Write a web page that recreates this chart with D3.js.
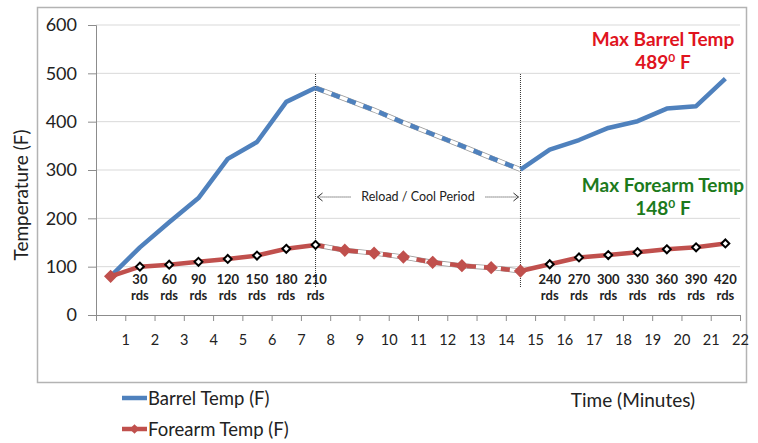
<!DOCTYPE html>
<html>
<head>
<meta charset="utf-8">
<script src="https://cdn.jsdelivr.net/npm/d3@7"></script>
<style>
  body { margin: 0; background: #fff; }
  svg text { font-family: Lato, "Open Sans", sans-serif; }
</style>
</head>
<body>
<div id="chart"></div>
<script>
// Barrel / forearm temperature during firing and reload-cool period

const timeMin = [0.5, 1.5, 2.5, 3.5, 4.5, 5.5, 6.5, 7.5, 8.5, 9.5, 10.5,
                 11.5, 12.5, 13.5, 14.5, 15.5, 16.5, 17.5, 18.5, 19.5, 20.5, 21.5];
const barrelTemp = [80, 140, 192, 242, 323, 358, 441, 470, 447, 424, 398,
                    374, 350, 325, 301, 342, 362, 387, 401, 427, 432, 489];
const forearmTemp = [80, 100, 104, 110, 116, 123, 137, 145, 134, 128, 120,
                     109, 102, 98, 91, 105, 119, 124, 130, 136, 140, 148];
const roundIdx = [1, 2, 3, 4, 5, 6, 7, 15, 16, 17, 18, 19, 20, 21];
const rounds = [30, 60, 90, 120, 150, 180, 210, 240, 270, 300, 330, 360, 390, 420];
const xTicks = d3.range(1, 23);
const yTicks = [0, 100, 200, 300, 400, 500, 600];
const coolStart = 7, coolEnd = 14;   // indices of reload / cool period

const W = 758, H = 443;
const blue = '#4f81bd', red = '#c0504d';

const svg = d3.select('#chart').append('svg')
    .attr('width', W).attr('height', H);

// outer chart frame
svg.append('rect')
    .attr('x', 37.5).attr('y', 7.5)
    .attr('width', 709).attr('height', 375)
    .attr('fill', 'none')
    .attr('stroke', '#b3b3b3')
    .attr('stroke-width', 1.5);

const x = d3.scaleLinear().domain([0, 22]).range([96, 740]);
const y = d3.scaleLinear().domain([0, 600]).range([315, 25]);

// gridlines
svg.append('g')
    .selectAll('line')
    .data(yTicks.filter(d => d > 0))
    .join('line')
    .attr('x1', x(0)).attr('x2', x(22))
    .attr('y1', d => y(d)).attr('y2', d => y(d))
    .attr('stroke', '#d9d9d9')
    .attr('stroke-width', 1);

// y axis
const yAxis = svg.append('g')
    .attr('transform', `translate(${x(0)},0)`)
    .call(d3.axisLeft(y).tickValues(yTicks).tickSize(8).tickPadding(11));
yAxis.select('.domain').attr('stroke', '#8c8c8c');
yAxis.selectAll('.tick line').attr('stroke', '#8c8c8c');
yAxis.selectAll('.tick text')
    .style('font-size', '18px')
    .attr('fill', '#222');

// x axis
const xAxis = svg.append('g')
    .attr('transform', `translate(0,${y(0)})`)
    .call(d3.axisBottom(x).tickValues([0].concat(xTicks)).tickSize(6).tickPadding(14)
        .tickFormat(d => d === 0 ? '' : d));
xAxis.select('.domain').attr('stroke', '#8c8c8c');
xAxis.selectAll('.tick line').attr('stroke', '#8c8c8c');
xAxis.selectAll('.tick text')
    .style('font-size', '14.5px')
    .attr('fill', '#222');

// axis titles
svg.append('text')
    .attr('transform', 'rotate(-90)')
    .attr('x', -195).attr('y', 28)
    .attr('text-anchor', 'middle')
    .style('font-size', '19px')
    .attr('fill', '#222')
    .text('Temperature (F)');

svg.append('text')
    .attr('x', 633).attr('y', 407)
    .attr('text-anchor', 'middle')
    .style('font-size', '19px')
    .attr('fill', '#222')
    .text('Time (Minutes)');

// reload / cool period dotted markers
[coolStart, coolEnd].forEach(i => {
    svg.append('line')
        .attr('x1', x(timeMin[i])).attr('x2', x(timeMin[i]))
        .attr('y1', 74).attr('y2', 287)
        .attr('stroke', '#333')
        .attr('stroke-width', 1)
        .attr('stroke-dasharray', '1,1');
});

const xs = x(timeMin[coolStart]), xe = x(timeMin[coolEnd]);
const arrowY = 197;
svg.append('text')
    .attr('x', (xs + xe) / 2).attr('y', arrowY + 4)
    .attr('text-anchor', 'middle')
    .style('font-size', '12.5px')
    .attr('fill', '#222')
    .text('Reload / Cool Period');

const arrows = svg.append('g').attr('stroke', '#333').attr('fill', 'none');
arrows.append('line')
    .attr('x1', xs + 2).attr('x2', xs + 36)
    .attr('y1', arrowY).attr('y2', arrowY)
    .attr('stroke-dasharray', '1,1');
arrows.append('path')
    .attr('d', `M${xs + 7},${arrowY - 4}L${xs + 2},${arrowY}L${xs + 7},${arrowY + 4}`);
arrows.append('line')
    .attr('x1', xe - 35).attr('x2', xe - 2)
    .attr('y1', arrowY).attr('y2', arrowY)
    .attr('stroke-dasharray', '1,1');
arrows.append('path')
    .attr('d', `M${xe - 7},${arrowY - 4}L${xe - 2},${arrowY}L${xe - 7},${arrowY + 4}`);

// series lines
const line = d3.line()
    .x(d => x(d[0]))
    .y(d => y(d[1]));

const drawSeries = (values, color) => {
    const pts = timeMin.map((t, i) => [t, values[i]]);
    const first = pts.slice(0, coolStart + 1);
    const cool = pts.slice(coolStart, coolEnd + 1);
    const last = pts.slice(coolEnd);

    // dashed cool-down segment: outlined white band with coloured dashes
    svg.append('path').datum(cool).attr('d', line)
        .attr('fill', 'none').attr('stroke', '#9a9a9a').attr('stroke-width', 5);
    svg.append('path').datum(cool).attr('d', line)
        .attr('fill', 'none').attr('stroke', '#fff').attr('stroke-width', 3.4);
    svg.append('path').datum(cool).attr('d', line)
        .attr('fill', 'none').attr('stroke', color).attr('stroke-width', 4.5)
        .attr('stroke-dasharray', '9,8');

    [first, last].forEach(seg => {
        svg.append('path').datum(seg).attr('d', line)
            .attr('fill', 'none')
            .attr('stroke', color)
            .attr('stroke-width', 4.5)
            .attr('stroke-linejoin', 'round');
    });
};

drawSeries(barrelTemp, blue);
drawSeries(forearmTemp, red);

// forearm markers
const isRed = i => i === 0 || (i > coolStart && i <= coolEnd);
const diamond = d3.symbol().type(d3.symbolDiamond2);
svg.append('g')
    .selectAll('path')
    .data(timeMin.map((t, i) => ({ t, v: forearmTemp[i], i })))
    .join('path')
    .attr('transform', d => `translate(${x(d.t)},${y(d.v)})`)
    .attr('d', d => diamond.size(isRed(d.i) ? 70 : 40)())
    .attr('fill', d => isRed(d.i) ? red : '#fff')
    .attr('stroke', d => isRed(d.i) ? red : '#000')
    .attr('stroke-width', 2);

// rounds fired labels
const rdLabels = svg.append('g')
    .selectAll('text')
    .data(roundIdx.map((idx, k) => ({ t: timeMin[idx], r: rounds[k] })))
    .join('text')
    .attr('text-anchor', 'middle')
    .style('font-size', '13px')
    .style('font-weight', 'bold')
    .attr('fill', '#222');
rdLabels.append('tspan').attr('x', d => x(d.t)).attr('y', 284).text(d => d.r);
rdLabels.append('tspan').attr('x', d => x(d.t)).attr('y', 300).text('rds');

// max annotations
const maxNote = (title, value, color, yTop) => {
    svg.append('text')
        .attr('x', 663).attr('y', yTop)
        .attr('text-anchor', 'middle')
        .style('font-size', '19px')
        .style('font-weight', 'bold')
        .attr('fill', color)
        .text(title);
    const t = svg.append('text')
        .attr('x', 663).attr('y', yTop + 23)
        .attr('text-anchor', 'middle')
        .style('font-size', '19px')
        .style('font-weight', 'bold')
        .attr('fill', color);
    t.append('tspan').text(value);
    t.append('tspan').attr('dy', -7).style('font-size', '12px').text('0');
    t.append('tspan').attr('dy', 7).text(' F');
};
maxNote('Max Barrel Temp', d3.max(barrelTemp), '#e0141e', 46);
maxNote('Max Forearm Temp', d3.max(forearmTemp), '#1c7a1c', 192);

// legend
const legend = svg.append('g');
legend.append('line')
    .attr('x1', 122).attr('x2', 147)
    .attr('y1', 398).attr('y2', 398)
    .attr('stroke', blue).attr('stroke-width', 4.5);
legend.append('text')
    .attr('x', 148).attr('y', 405)
    .style('font-size', '18.5px').attr('fill', '#222')
    .text('Barrel Temp (F)');
legend.append('line')
    .attr('x1', 122).attr('x2', 147)
    .attr('y1', 429).attr('y2', 429)
    .attr('stroke', red).attr('stroke-width', 4.5);
legend.append('path')
    .attr('transform', 'translate(134.5,429)')
    .attr('d', diamond.size(60)())
    .attr('fill', red);
legend.append('text')
    .attr('x', 148).attr('y', 436)
    .style('font-size', '18.5px').attr('fill', '#222')
    .text('Forearm Temp (F)');
</script>
</body>
</html>
